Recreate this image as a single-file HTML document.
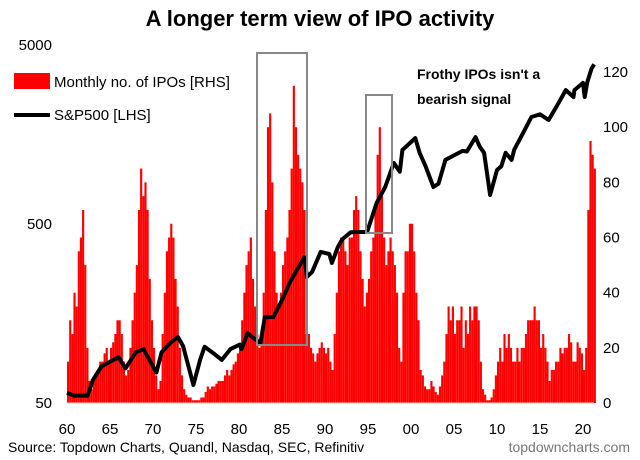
<!DOCTYPE html>
<html><head><meta charset="utf-8"><style>
body{margin:0;background:#fff}
svg{display:block;font-family:"Liberation Sans",Arial,sans-serif}
</style></head><body>
<svg id="c" width="640" height="460" viewBox="0 0 640 460">
<text x="320" y="26" text-anchor="middle" font-size="22" font-weight="bold">A longer term view of IPO activity</text>
<g id="bars"></g>
<polyline id="spx" fill="none" stroke="#000" stroke-width="4" stroke-linejoin="round"/>
<rect x="257" y="53" width="50" height="292" fill="none" stroke="#888" stroke-width="2"/>
<rect x="366" y="95" width="26" height="138" fill="none" stroke="#888" stroke-width="2"/>
<line x1="67" y1="403" x2="594" y2="403" stroke="#d0d0d0" stroke-width="1"/>
<g id="xt" font-size="15" text-anchor="middle"></g>
<g id="yl" font-size="15" text-anchor="end"></g>
<g id="yr" font-size="15" text-anchor="start"></g>
<g>
<rect x="14" y="73" width="36" height="16" fill="#f00"/>
<text x="54" y="87" font-size="15">Monthly no. of IPOs [RHS]</text>
<line x1="14" y1="115" x2="50" y2="115" stroke="#000" stroke-width="4"/>
<text x="54" y="120" font-size="15">S&amp;P500 [LHS]</text>
</g>
<text x="417" y="79" font-size="14" font-weight="bold"><tspan x="417">Frothy IPOs isn't a</tspan><tspan x="417" dy="25">bearish signal</tspan></text>
<text x="8" y="452" font-size="14">Source: Topdown Charts, Quandl, Nasdaq, SEC, Refinitiv</text>
<text x="630" y="452" font-size="14" fill="#777" text-anchor="end">topdowncharts.com</text>
</svg>
<script>
const ipoStartYear = 1960;
const ipoQuarterly = [15,30,25,40, 35,55,60,70, 50,20,8,5, 8,10,12,15, 15,18,20,15, 20,22,25,30, 30,25,15,10, 12,20,30,40, 50,70,85,75, 80,70,45,30,
 20,10,5,8, 25,40,55,60, 65,60,45,35, 20,10,5,3, 2,2,1,1, 1,1,2,2, 4,6,5,6, 6,7,8,8, 8,10,12,10, 12,14,15,18,
 20,30,40,50, 55,60,45,35, 25,20,25,40, 70,100,105,80, 55,40,35,40, 50,55,60,70, 85,115,100,90, 85,80,70,25, 25,20,18,15, 18,20,22,20,
 18,20,15,12, 25,40,55,60, 60,55,50,60, 60,70,75,70, 55,45,35,40, 45,55,60,70, 90,100,75,60, 50,55,60,55, 50,40,20,15, 40,55,55,65,
 65,55,40,30, 12,10,6,5, 5,8,6,4, 3,6,10,15, 25,35,30,35, 25,30,30,35, 20,30,25,35, 30,35,35,30, 15,5,3,1, 1,2,5,10,
 15,20,15,25, 20,25,20,15, 15,20,15,20, 20,25,30,30, 30,35,30,30, 20,25,20,15, 8,12,12,15, 15,20,18,20, 20,25,22,15, 15,22,20,18,
 12,20,70,95, 90,85];
const spxDates = [1960,1960.8,1962.4,1963,1964,1965,1966,1966.8,1968,1968.9,1970.4,1971,1972,1972.9,1973.5,1974.7,1975.5,1976,1977,1978,1979,1980.1,1980.3,1981,1981.5,1982.5,1983,1984,1985,1986,1987.6,1987.9,1988.5,1989.5,1990.5,1990.8,1991.5,1992,1993,1994,1994.9,1996,1997,1998,1998.7,1999,2000.5,2001,2001.7,2002.6,2003.2,2004,2006,2006.5,2007.5,2008,2008.5,2009.2,2010,2010.5,2011,2011.7,2012,2013,2014,2015,2016,2017,2018,2018.9,2019,2020,2020.2,2020.5,2021,2021.3];
const spxValues = [57,55,55,67,80,85,90,78,96,100,74,96,108,117,104,63,88,103,95,87,100,106,100,123,117,108,151,151,188,240,327,253,270,349,340,303,372,410,450,451,451,655,805,1096,980,1295,1510,1250,1050,805,840,1140,1280,1270,1530,1350,1250,726,1002,1050,1250,1140,1300,1600,1980,2050,1905,2300,2800,2560,2800,3070,2560,3100,3700,3900];
const xTicks = ["60","65","70","75","80","85","90","95","00","05","10","15","20"];
const leftTicks = [50,500,5000];
const rightTicks = [0,20,40,60,80,100,120];

const NS="http://www.w3.org/2000/svg";
const x = yr => 67 + (yr-1960)*8.6;
const yR = v => 403 - v*2.758;
const yL = v => 403 - Math.log10(v/50)*179;

const bars=document.getElementById('bars');
ipoQuarterly.forEach((v,i)=>{
  const r=document.createElementNS(NS,'rect');
  r.setAttribute('x',x(ipoStartYear+i/4).toFixed(2));
  r.setAttribute('width','2.15');
  r.setAttribute('y',yR(v).toFixed(2));
  r.setAttribute('height',(403-yR(v)).toFixed(2));
  r.setAttribute('fill','#f00');
  
  
  bars.appendChild(r);
});
document.getElementById('spx').setAttribute('points',spxDates.map((d,i)=>x(d).toFixed(1)+','+yL(spxValues[i]).toFixed(1)).join(' '));

const xt=document.getElementById('xt');
xTicks.forEach((t,i)=>{
  const tx=document.createElementNS(NS,'text');
  tx.setAttribute('x',x(1960+i*5));tx.setAttribute('y',434);tx.textContent=t;
  
  
  xt.appendChild(tx);
});
const yl=document.getElementById('yl');
leftTicks.forEach(t=>{
  const tx=document.createElementNS(NS,'text');
  tx.setAttribute('x',52);tx.setAttribute('y',yL(t)+5);tx.textContent=t;
  
  
  yl.appendChild(tx);
});
const yr=document.getElementById('yr');
rightTicks.forEach(t=>{
  const tx=document.createElementNS(NS,'text');
  tx.setAttribute('x',603);tx.setAttribute('y',yR(t)+5);tx.textContent=t;
  
  
  yr.appendChild(tx);
});
</script>
</body></html>
